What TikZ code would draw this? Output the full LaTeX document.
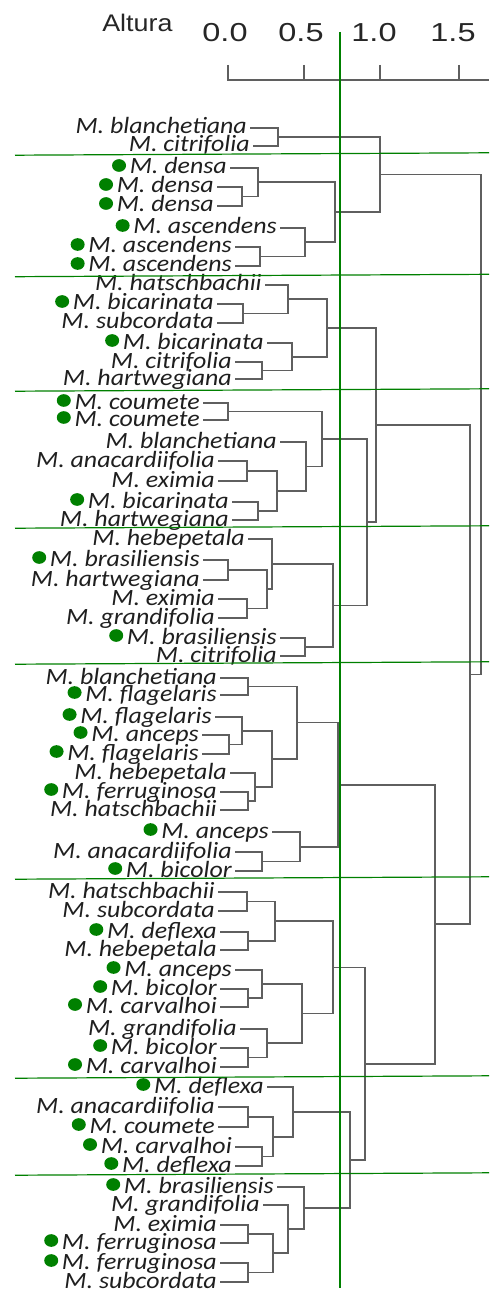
\documentclass[tikz,border=0pt]{standalone}
\usepackage{fontspec}
\usetikzlibrary{calc,shapes.geometric}
\newfontfamily\labfont{Carlito}[FakeStretch=1.11]
\newfontfamily\axfont{Liberation Sans}
\definecolor{grn}{RGB}{0,128,0}
\definecolor{brc}{RGB}{95,95,95}
\tikzset{
  lab/.style={font=\labfont\itshape\fontsize{17.5}{18}\selectfont, inner sep=0pt, text=black!88},
  br/.style={draw=brc, line width=1.2pt, line join=miter},
  ax/.style={draw=brc, line width=1.1pt},
  gline/.style={draw=grn, line width=0.9pt},
  gdot/.style={ellipse, fill=grn, minimum width=10.5pt, minimum height=9.5pt, inner sep=0pt},
  axlab/.style={font=\axfont\fontsize{18}{20}\selectfont, inner sep=0pt, text=black!85},
  axnum/.style={font=\axfont\fontsize{19.5}{21}\selectfont, inner sep=0pt, text=black!85, anchor=base},
}
\newcommand\lf[4]{\coordinate (#1) at (#2,#3); \node[lab, anchor=base east] (#1t) at (#2-3,#3+6) {M. #4};}
\newcommand\lfd[4]{\lf{#1}{#2}{#3}{#4}\node[gdot] (#1d) at ([shift={(-10.5,-8.5)}]#1t.base west) {};}
\newcommand\mj[4]{\path let \p1=(#2), \p2=(#3) in coordinate (#1) at ({#4*0.75pt},{0.5*\y1+0.5*\y2}); \draw[br] (#2) -- (#2 -| #1) -- (#3 -| #1) -- (#3);}
\begin{document}
\begin{tikzpicture}[x=0.75pt,y=-0.75pt]
\useasboundingbox (0,0) rectangle (489,1294);
% axis
\node[axlab, anchor=base west] (alt) at (102,32) {\scalebox{1.12}[1]{Altura}};
\node[axnum] (n0) at (225,42) {\scalebox{1.25}[1]{0.0}};
\node[axnum] (n1) at (301,42) {\scalebox{1.25}[1]{0.5}};
\node[axnum] (n2) at (374,42) {\scalebox{1.25}[1]{1.0}};
\node[axnum] (n3) at (453,42) {\scalebox{1.25}[1]{1.5}};
\draw[ax] (227,80) -- (489,80);
\foreach \t in {228,304,380,459} {\draw[ax] (\t,65) -- (\t,80);}
% leaves
\lf{a1}{250}{128}{blanchetiana}
\lf{a2}{253}{146}{citrifolia}
\lfd{b1}{230}{168}{densa}
\lfd{b2}{217}{187}{densa}
\lfd{b3}{217}{206}{densa}
\lfd{b4}{280}{228}{ascendens}
\lfd{b5}{235}{247}{ascendens}
\lfd{b6}{235}{266}{ascendens}
\lf{c1}{265}{285}{hatschbachii}
\lfd{c2}{217}{304}{bicarinata}
\lf{c3}{217}{323}{subcordata}
\lfd{c4}{267}{343}{bicarinata}
\lf{c5}{235}{362}{citrifolia}
\lf{c6}{235}{379}{hartwegiana}
\lfd{d1}{203}{403}{coumete}
\lfd{d2}{203}{420}{coumete}
\lf{d3}{280}{442}{blanchetiana}
\lf{d4}{218}{461}{anacardiifolia}
\lf{d5}{218}{481}{eximia}
\lfd{d6}{232}{502}{bicarinata}
\lf{d7}{232}{520}{hartwegiana}
\lf{e1}{248}{539}{hebepetala}
\lfd{e2}{203}{560}{brasiliensis}
\lf{e3}{203}{580}{hartwegiana}
\lf{e4}{218}{599}{eximia}
\lf{e5}{218}{618}{grandifolia}
\lfd{e6}{280}{638}{brasiliensis}
\lf{e7}{280}{656}{citrifolia}
\lf{f1}{220}{678}{blanchetiana}
\lfd{f2}{220}{695}{flagelaris}
\lfd{f3}{215}{717}{flagelaris}
\lfd{f4}{202}{735}{anceps}
\lfd{f5}{202}{754}{flagelaris}
\lf{f6}{230}{773}{hebepetala}
\lfd{f7}{220}{792}{ferruginosa}
\lf{f8}{220}{810}{hatschbachii}
\lfd{f9}{272}{832}{anceps}
\lf{f10}{235}{852}{anacardiifolia}
\lfd{f11}{235}{871}{bicolor}
\lf{g1}{218}{892}{hatschbachii}
\lf{g2}{218}{911}{subcordata}
\lfd{g3}{220}{932}{deflexa}
\lf{g4}{220}{950}{hebepetala}
\lfd{g5}{235}{970}{anceps}
\lfd{g6}{220}{989}{bicolor}
\lfd{g7}{220}{1007}{carvalhoi}
\lf{g8}{240}{1029}{grandifolia}
\lfd{g9}{220}{1048}{bicolor}
\lfd{g10}{220}{1067}{carvalhoi}
\lfd{h1}{267}{1087}{deflexa}
\lf{h2}{218}{1107}{anacardiifolia}
\lfd{h3}{218}{1127}{coumete}
\lfd{h4}{235}{1147}{carvalhoi}
\lfd{h5}{235}{1166}{deflexa}
\lfd{i1}{277}{1187}{brasiliensis}
\lf{i2}{263}{1205}{grandifolia}
\lf{i3}{220}{1225}{eximia}
\lfd{i4}{220}{1243}{ferruginosa}
\lfd{i5}{220}{1263}{ferruginosa}
\lf{i6}{220}{1282}{subcordata}
% joins
\mj{A}{a1}{a2}{278}
\mj{bb}{b2}{b3}{242}
\mj{bbb}{b1}{bb}{258}
\mj{ba}{b5}{b6}{260}
\mj{baa}{b4}{ba}{305}
\mj{B}{bbb}{baa}{335}
\mj{AB}{A}{B}{380}
\mj{cc}{c2}{c3}{243}
\mj{ccc}{c1}{cc}{288}
\mj{ca}{c5}{c6}{262}
\mj{caa}{c4}{ca}{292}
\mj{C}{ccc}{caa}{327}
\mj{dd}{d1}{d2}{228}
\mj{da}{d4}{d5}{247}
\mj{db}{d6}{d7}{258}
\mj{dab}{da}{db}{277}
\mj{dc}{d3}{dab}{306}
\mj{D}{dd}{dc}{322}
\mj{ea}{e2}{e3}{228}
\mj{eb}{e4}{e5}{247}
\mj{eab}{ea}{eb}{267}
\mj{ec}{e1}{eab}{272}
\mj{ed}{e6}{e7}{305}
\mj{E}{ec}{ed}{333}
\mj{DE}{D}{E}{367}
\mj{CDE}{C}{DE}{376}
\mj{fa}{f1}{f2}{248}
\mj{fb}{f4}{f5}{229}
\mj{fc}{f3}{fb}{242}
\mj{fd}{f7}{f8}{248}
\mj{fe}{f6}{fd}{255}
\mj{ff}{fc}{fe}{272}
\mj{fg}{fa}{ff}{297}
\mj{fh}{f10}{f11}{262}
\mj{fi}{f9}{fh}{300}
\mj{F}{fg}{fi}{338}
\mj{ga}{g1}{g2}{247}
\mj{gb}{g3}{g4}{248}
\mj{gc}{ga}{gb}{275}
\mj{gd}{g6}{g7}{248}
\mj{ge}{g5}{gd}{262}
\mj{gf}{g9}{g10}{248}
\mj{gg}{g8}{gf}{267}
\mj{gh}{ge}{gg}{302}
\mj{G}{gc}{gh}{333}
\mj{ha}{h2}{h3}{248}
\mj{hb}{h4}{h5}{262}
\mj{hc}{ha}{hb}{273}
\mj{H}{h1}{hc}{293}
\mj{ia}{i3}{i4}{248}
\mj{ib}{i5}{i6}{248}
\mj{ic}{ia}{ib}{273}
\mj{id}{i2}{ic}{288}
\mj{I}{i1}{id}{304}
\mj{HI}{H}{I}{350}
\mj{GHI}{G}{HI}{365}
\mj{FGHI}{F}{GHI}{435}
\mj{CF}{CDE}{FGHI}{470}
\mj{root}{AB}{CF}{481}
% green cut lines
\foreach \yy in {154,275.5,390,527,663,878,1077,1174} {\draw[gline] (15,\yy+1.2) -- (489,\yy-1.2);}
\draw[gline] (340,32) -- (340,1288);
\end{tikzpicture}
\end{document}
